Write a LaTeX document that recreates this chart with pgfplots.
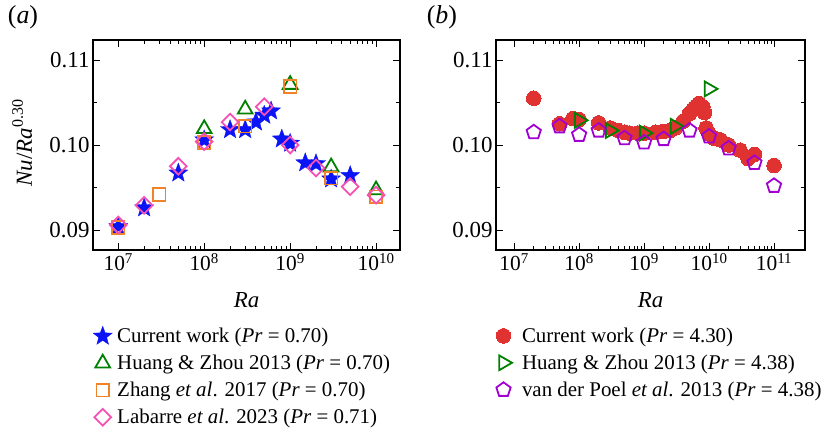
\documentclass[border=0pt]{standalone}
\usepackage{fontspec}
\setmainfont{Liberation Serif}
\usepackage{pgfplots}
\pgfplotsset{compat=1.18}
\usetikzlibrary{plotmarks}

\definecolor{cblue}{RGB}{10,20,245}
\definecolor{cgreen}{RGB}{0,128,0}
\definecolor{corange}{RGB}{240,130,40}
\definecolor{cpink}{RGB}{245,80,180}
\definecolor{cred}{RGB}{225,50,50}
\definecolor{cpurple}{RGB}{160,0,210}

\pgfdeclareplotmark{fstar}{%
  \pgfpathmoveto{\pgfpointpolar{90}{\pgfplotmarksize}}%
  \pgfpathlineto{\pgfpointpolar{126}{0.42\pgfplotmarksize}}%
  \pgfpathlineto{\pgfpointpolar{162}{\pgfplotmarksize}}%
  \pgfpathlineto{\pgfpointpolar{198}{0.42\pgfplotmarksize}}%
  \pgfpathlineto{\pgfpointpolar{234}{\pgfplotmarksize}}%
  \pgfpathlineto{\pgfpointpolar{270}{0.42\pgfplotmarksize}}%
  \pgfpathlineto{\pgfpointpolar{306}{\pgfplotmarksize}}%
  \pgfpathlineto{\pgfpointpolar{342}{0.42\pgfplotmarksize}}%
  \pgfpathlineto{\pgfpointpolar{18}{\pgfplotmarksize}}%
  \pgfpathlineto{\pgfpointpolar{54}{0.42\pgfplotmarksize}}%
  \pgfpathclose
  \pgfusepathqfillstroke
}

\pgfplotsset{
  myaxis/.style={
    scale only axis, height=210bp,
    ymin=0.08765, ymax=0.11235,
    ytick={0.09,0.10,0.11}, yticklabels={0.09,0.10,0.11},
    minor ytick={0.095,0.105},
    tick align=inside, major tick length=7bp, minor tick length=4bp,
    axis line style={line width=1.5bp},
    every tick/.style={black, line width=0.9bp},
    xticklabel style={font=\fontsize{21.5}{24}\selectfont},
    yticklabel style={font=\fontsize{23}{26}\selectfont},
    xlabel={\textit{Ra}},
    every axis x label/.style={at={(axis description cs:0.5,-0.238)}, anchor=center, font=\fontsize{23}{26}\selectfont},
    clip=false,
    legend cell align=left,
    legend style={draw=none, fill=none, inner sep=0pt, row sep=7bp,
      font=\fontsize{21}{24}\selectfont, anchor=north west},
  },
}

\begin{document}
\begin{tikzpicture}
\useasboundingbox (0,0) rectangle (828bp,-434bp);

% ---------------- panel (a)
\begin{semilogxaxis}[myaxis, width=307bp, at={(93bp,-250bp)}, anchor=south west,
  xmin=5.08e6, xmax=1.9e10,
  xtick={1e7,1e8,1e9,1e10},
  xticklabels={10\textsuperscript{7},10\textsuperscript{8},10\textsuperscript{9},10\textsuperscript{10}},
  ylabel={\textit{Nu}/\textit{Ra}\textsuperscript{0.30}},
  every axis y label/.style={at={(axis description cs:-0.231,0.51)}, rotate=90, anchor=center, font=\fontsize{23}{26}\selectfont},
  legend style={at={(axis description cs:0.0,-0.362)},
    /tikz/every odd column/.append style={column sep=3bp}},
]
\addplot[only marks, mark=fstar, mark size=10bp, draw=cblue, fill=cblue, mark options={line width=0.3bp}]
  coordinates {(1e7,0.0904)(2e7,0.0926)(5e7,0.0967)(1e8,0.1006)(2e8,0.1018)(3e8,0.1018)
  (4e8,0.1027)(5e8,0.1035)(6e8,0.1040)(8e8,0.1007)(1e9,0.1002)(1.5e9,0.0979)(2e9,0.0978)
  (3e9,0.0960)(5e9,0.0964)};
\addlegendentry{Current work (\textit{Pr} = 0.70)}
\addplot[only marks, mark=triangle, mark size=8.5bp, draw=cgreen, mark options={line width=1.8bp}]
  coordinates {(1e8,0.1019)(3e8,0.1042)(1e9,0.1071)(3e9,0.0974)(1e10,0.0947)};
\addlegendentry{Huang \& Zhou 2013 (\textit{Pr} = 0.70)}
\addplot[only marks, mark=square, mark size=6.3bp, draw=corange, mark options={line width=1.8bp}]
  coordinates {(1e7,0.0903)(3e7,0.0942)(1e8,0.1003)(3e8,0.1022)(1e9,0.1069)(3e9,0.0961)(1e10,0.0939)};
\addlegendentry{Zhang \textit{et al}. 2017 (\textit{Pr} = 0.70)}
\addplot[only marks, mark=square, mark size=5.9bp, draw=cpink, mark options={line width=1.8bp, rotate=45}]
  coordinates {(1e7,0.0906)(2e7,0.0929)(5e7,0.0975)(1e8,0.1004)(2e8,0.1027)(5e8,0.1045)
  (1e9,0.1000)(2e9,0.0973)(5e9,0.0951)(1e10,0.0941)};
\addlegendentry{Labarre \textit{et al}. 2023 (\textit{Pr} = 0.71)}
\node[font=\fontsize{26}{28}\selectfont] at (axis description cs:-0.228,1.11) {(\textit{a})};
\end{semilogxaxis}

% ---------------- panel (b)
\begin{semilogxaxis}[myaxis, width=309bp, at={(496bp,-250bp)}, anchor=south west,
  xmin=5.25e6, xmax=3.0e11,
  xtick={1e7,1e8,1e9,1e10,1e11},
  xticklabels={10\textsuperscript{7},10\textsuperscript{8},10\textsuperscript{9},10\textsuperscript{10},10\textsuperscript{11}},
  legend style={at={(axis description cs:0.0,-0.36)},
    /tikz/every odd column/.append style={column sep=8bp}},
]
\addplot[only marks, mark=*, mark size=7.3bp, draw=cred, fill=cred, mark options={line width=0bp}]
  coordinates {(2e7,0.1055)(5e7,0.1025)(8e7,0.1031)(1e8,0.1030)(2e8,0.1026)(3e8,0.1020)
  (4e8,0.1017)(5e8,0.1015)(6e8,0.1014)(8e8,0.1014)(1e9,0.1014)(1.5e9,0.1015)(2e9,0.1016)
  (2.5e9,0.1017)(3e9,0.1020)(4e9,0.1028)(5e9,0.1037)(6e9,0.1044)(7e9,0.1049)(8e9,0.1045)
  (8.5e9,0.1038)(9e9,0.1020)(1e10,0.1013)(1.2e10,0.1008)(1.5e10,0.1006)(2e10,0.1000)
  (3e10,0.0994)(4e10,0.0984)(5e10,0.0989)(1e11,0.0976)};
\addlegendentry{Current work (\textit{Pr} = 4.30)}
\addplot[only marks, mark=triangle, mark size=8.5bp, draw=cgreen, mark options={line width=1.8bp, rotate=-90}]
  coordinates {(1e8,0.1029)(3e8,0.1017)(1e9,0.1014)(3e9,0.1022)(1e10,0.1066)};
\addlegendentry{Huang \& Zhou 2013 (\textit{Pr} = 4.38)}
\addplot[only marks, mark=pentagon, mark size=7.5bp, draw=cpurple, mark options={line width=1.8bp}]
  coordinates {(2e7,0.1015)(5e7,0.1022)(1e8,0.1012)(2e8,0.1017)(5e8,0.1008)(1e9,0.1003)
  (2e9,0.1007)(5e9,0.1017)(1e10,0.1010)(2e10,0.0996)(5e10,0.0979)(1e11,0.0952)};
\addlegendentry{van der Poel \textit{et al}. 2013 (\textit{Pr} = 4.38)}
\node[font=\fontsize{26}{28}\selectfont] at (axis description cs:-0.175,1.11) {(\textit{b})};
\end{semilogxaxis}
\end{tikzpicture}
\end{document}
